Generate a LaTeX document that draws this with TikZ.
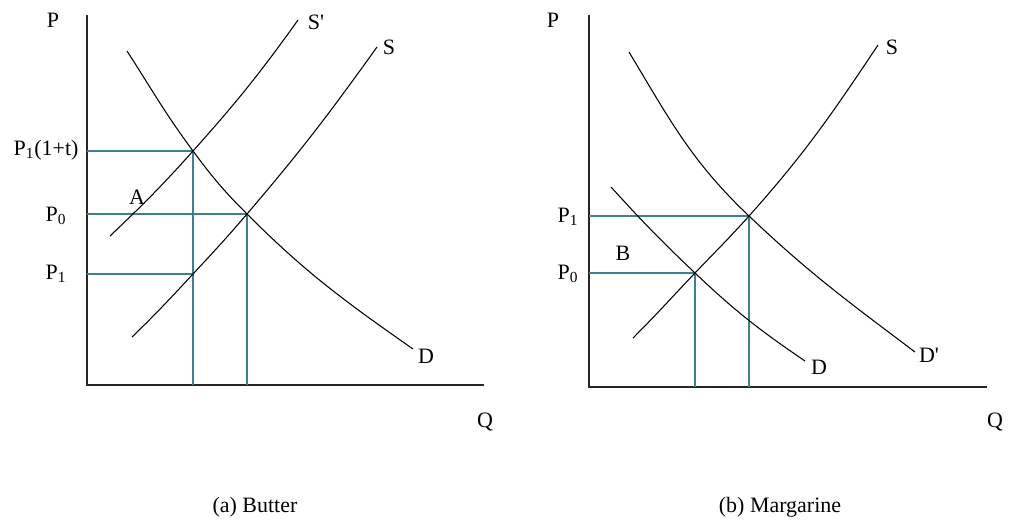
\documentclass[tikz,border=0pt]{standalone}
\usepackage{fontspec}
\setmainfont{Liberation Serif}
\definecolor{guidecol}{RGB}{62,128,140}

\begin{document}
\begin{tikzpicture}[x=0.02cm,y=-0.02cm,
    axis/.style={line width=1.1pt,black!85},
    curve/.style={line width=0.6pt,black},
    guide/.style={line width=0.8pt,guidecol},
    lbl/.style={inner sep=0pt,font=\fontsize{12.5}{14}\selectfont}]
  \useasboundingbox (0,0) rectangle (1011,527);
  % (a) butter
  \coordinate (Oa) at (87,385);
  \coordinate (Ya) at (87,15);
  \coordinate (Xa) at (484,385);
  \coordinate (Et) at (193,151);
  \coordinate (E0) at (247,214);
  \coordinate (E1) at (193,274);
  \coordinate (Spa1) at (110,236);
  \coordinate (Spa2) at (298,20);
  \coordinate (Sa1) at (132,337);
  \coordinate (Sa2) at (377,47);
  \coordinate (Da1) at (127,51);
  \coordinate (Da2) at (413,349);
  \draw[axis] (Ya) -- (Oa) -- (Xa);
  \draw[guide] (Et -| Oa) -- (Et) -- (Et |- Oa);
  \draw[guide] (E0 -| Oa) -- (E0) -- (E0 |- Oa);
  \draw[guide] (E1 -| Oa) -- (E1);
  \draw[curve] (Spa1) to[out=43.5,in=228.2] (Et) to[out=48.2,in=234.5] (Spa2);
  \draw[curve] (Sa1) to[out=44.1,in=227.1] (E1) to[out=47.1,in=229.5] (E0)
    to[out=49.5,in=234.4] (Sa2);
  \draw[curve] (Da1) to[out=-57.2,in=126.5] (Et) to[out=-53.5,in=135] (E0)
    to[out=-45,in=145] (Da2);
  \node[lbl] (Pa) at (53,20) {P};
  \node[lbl] (Qa) at (485,422) {Q};
  \node[lbl] (Spa) at (316,22) {S\textquotesingle};
  \node[lbl] (Sa) at (389,47) {S};
  \node[lbl] (Da) at (426,356) {D};
  \node[lbl] (PTa) at (46,150) {P\textsubscript{1}(1+t)};
  \node[lbl] (P0a) at (56,216) {P\textsubscript{0}};
  \node[lbl] (P1a) at (56,274) {P\textsubscript{1}};
  \node[lbl] (A) at (137,197) {A};
  \node[lbl] (capa) at (255,507) {(a) Butter};
  % (b) margarine
  \coordinate (Ob) at (589,387);
  \coordinate (Yb) at (589,15);
  \coordinate (Xb) at (987,387);
  \coordinate (F0) at (695,273);
  \coordinate (F1) at (749,216);
  \coordinate (Sb1) at (633,338);
  \coordinate (Sb2) at (878,45);
  \coordinate (Db1) at (611,187);
  \coordinate (Db2) at (805,361);
  \coordinate (Dpb1) at (629,52);
  \coordinate (Dpb2) at (915,352);
  \draw[axis] (Yb) -- (Ob) -- (Xb);
  \draw[guide] (F1 -| Ob) -- (F1) -- (F1 |- Ob);
  \draw[guide] (F0 -| Ob) -- (F0) -- (F0 |- Ob);
  \draw[curve] (Sb1) to[out=45,in=226.4] (F0) to[out=46.4,in=228.2] (F1)
    to[out=48.2,in=236.3] (Sb2);
  \draw[curve] (Db1) to[out=-47.7,in=136.5] (F0) to[out=-43.5,in=145.8] (Db2);
  \draw[curve] (Dpb1) to[out=-59,in=136.5] (F1) to[out=-43.5,in=143] (Dpb2);
  \node[lbl] (Pb) at (553,20) {P};
  \node[lbl] (Qb) at (995,422) {Q};
  \node[lbl] (Sb) at (892,47) {S};
  \node[lbl] (Db) at (819,367) {D};
  \node[lbl] (Dpb) at (929,355) {D\textquotesingle};
  \node[lbl] (P1b) at (568,217) {P\textsubscript{1}};
  \node[lbl] (P0b) at (568,274) {P\textsubscript{0}};
  \node[lbl] (B) at (623,253) {B};
  \node[lbl] (capb) at (780,507) {(b) Margarine};
\end{tikzpicture}
\end{document}
